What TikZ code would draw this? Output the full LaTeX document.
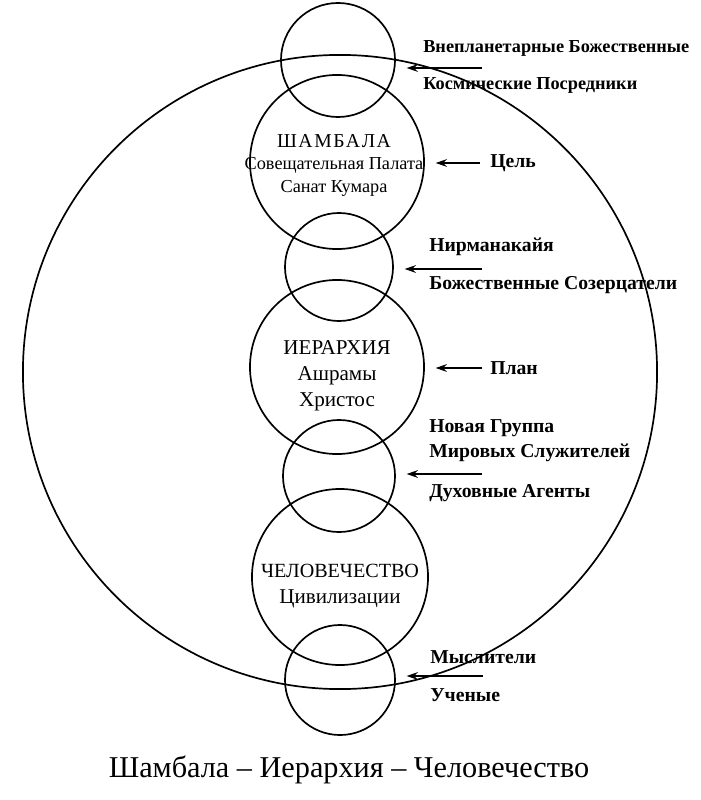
\documentclass[tikz,border=0pt]{standalone}
\usepackage{fontspec}
\setmainfont{Liberation Serif}
\usetikzlibrary{arrows.meta}

\tikzset{
	ring/.style={circle, draw, line width=1.2pt, minimum size=#1, inner sep=0pt},
	intext/.style={align=center, font=\fontsize{15}{18.5}\selectfont},
	side/.style={anchor=west, inner sep=0pt, font=\fontsize{14}{16}\selectfont\bfseries},
	arr/.style={line width=1.2pt, -{Stealth[length=8pt,width=5.5pt]}, shorten >=0.27cm},
}

\begin{document}
\begin{tikzpicture}[x=0.025cm, y=-0.025cm]
	%%%%% START %%%%%
	\useasboundingbox (0,0) rectangle (700,800);
	
	% circles of the chain
	\node[ring=2.85cm] (top) at (338, 60) {};
	\node[ring=4.35cm] (sham) at (337, 162) {};
	\node[ring=2.7cm] (nirm) at (339, 267) {};
	\node[ring=4.35cm] (hier) at (337, 367) {};
	\node[ring=2.8cm] (ngws) at (339, 476) {};
	\node[ring=4.4cm] (hum) at (340, 577) {};
	\node[ring=2.75cm] (bot) at (340, 680) {};
	
	% the great circle
	\node[ring=15.85cm] (world) at (340, 372) {};
	
	% texts in the circles
	\node[intext, font=\fontsize{13}{16}\selectfont] (shamtxt) at (334, 165)
		{{\fontsize{14}{16}\selectfont\addfontfeature{LetterSpace=8}ШАМБАЛА}\\Совещательная Палата\\Санат Кумара};
	\node[intext] (hiertxt) at (337, 376) {ИЕРАРХИЯ\\Ашрамы\\Христос};
	\node[intext] (humtxt) at (340, 586) {{\fontsize{14.3}{16}\selectfont ЧЕЛОВЕЧЕСТВО}\\Цивилизации};
	
	% texts on the right
	\node[side, font=\fontsize{13}{15}\selectfont\bfseries] (ext) at (423, 48) {Внепланетарные Божественные};
	\node[side, font=\fontsize{13}{15}\selectfont\bfseries] (cosm) at (423, 85) {Космические Посредники};
	\node[side] (goal) at (490, 163) {Цель};
	\node[side] (nmk) at (429, 247) {Нирманакайя};
	\node[side] (cont) at (429, 285) {Божественные Созерцатели};
	\node[side] (plan) at (490, 368) {План};
	\node[side] (newg) at (429, 428) {Новая Группа};
	\node[side] (serv) at (429, 453) {Мировых Служителей};
	\node[side] (agen) at (429, 493) {Духовные Агенты};
	\node[side] (thnk) at (430, 657) {Мыслители};
	\node[side] (sci) at (430, 695) {Ученые};
	
	% arrows
	\coordinate (a1) at (482, 68);
	\coordinate (a2) at (480, 163);
	\coordinate (a3) at (482, 269);
	\coordinate (a4) at (482, 368);
	\coordinate (a5) at (482, 474);
	\coordinate (a6) at (483, 676);
	\draw[arr] (a1) -- (a1 -| top.east);
	\draw[arr] (a2) -- (a2 -| sham.east);
	\draw[arr] (a3) -- (a3 -| nirm.east);
	\draw[arr] (a4) -- (a4 -| hier.east);
	\draw[arr] (a5) -- (a5 -| ngws.east);
	\draw[arr] (a6) -- (a6 -| bot.east);
	
	% caption
	\node[font=\fontsize{21.5}{24}\selectfont] (capt) at (349, 770) {Шамбала – Иерархия – Человечество};
	
	%%%%% END %%%%%
\end{tikzpicture}
\end{document}
